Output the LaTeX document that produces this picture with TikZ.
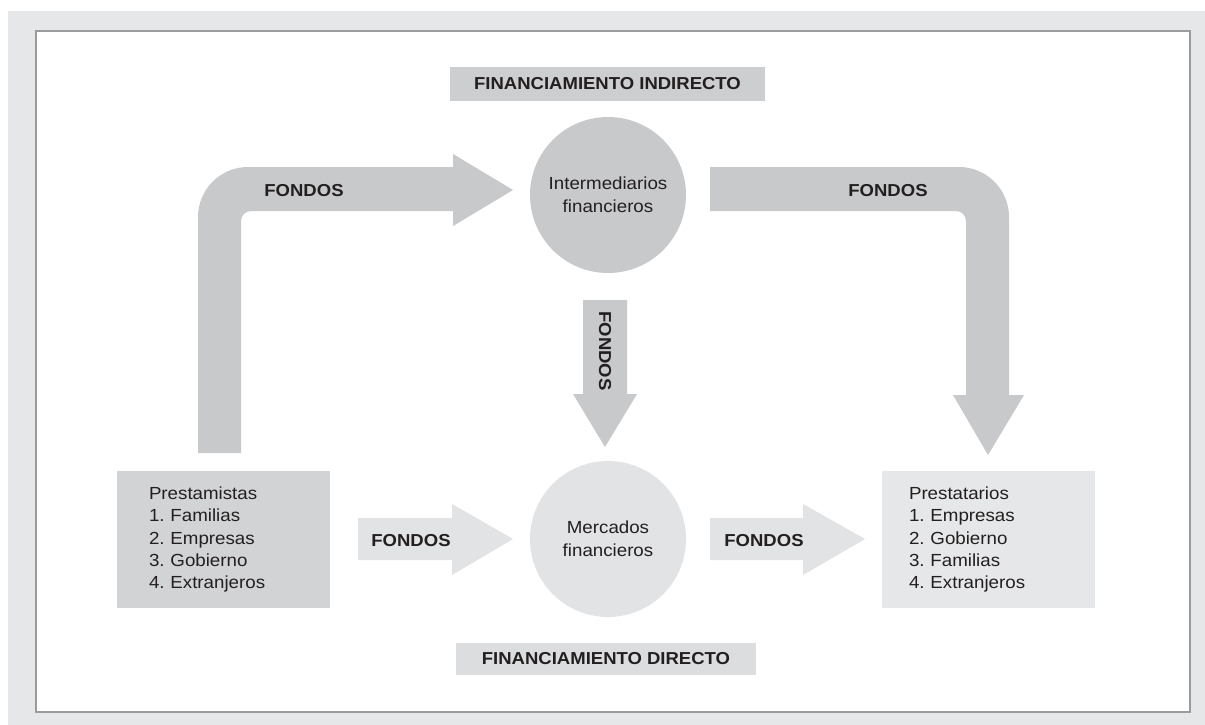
\documentclass[tikz,border=0pt]{standalone}
\usepackage{fontspec}
\setmainfont{Liberation Sans}[FakeStretch=1.07]
\frenchspacing
\definecolor{panelg}{HTML}{E6E7E8}
\definecolor{frameg}{HTML}{9A9B9D}
\definecolor{darkg}{HTML}{C8C9CB}
\definecolor{midg}{HTML}{D1D3D4}
\definecolor{titleg}{HTML}{CDCED0}
\definecolor{lightg}{HTML}{E2E3E4}
\definecolor{paleg}{HTML}{E6E7E8}
\definecolor{dirg}{HTML}{DCDDDF}
\definecolor{txt}{HTML}{231F20}
\tikzset{
  txtfont/.style={font=\fontsize{17.5}{22.4}\selectfont\frenchspacing, text=txt},
  circ/.style={circle, minimum size=156pt, inner sep=0pt, align=center, txtfont,
    font=\fontsize{17.5}{23}\selectfont},
  listbox/.style={rectangle, minimum width=213pt, minimum height=137pt, inner sep=0pt,
    align=left, txtfont},
  titlebox/.style={rectangle, inner sep=0pt, txtfont, font=\fontsize{17.3}{20}\selectfont\bfseries},
  lbl/.style={inner sep=0pt, txtfont, font=\fontsize{17.3}{20}\selectfont\bfseries}
}
\begin{document}
\begin{tikzpicture}[x=1pt,y=-1pt]
\useasboundingbox (0,0) rectangle (1205,725);
% panel and frame
\fill[panelg] (8,11) rectangle (1205,725);
\fill[white] (36,31) rectangle (1190,712);
\draw[frameg, line width=1.6pt] (36,31) rectangle (1190,712);

% titles
\node[titlebox, fill=titleg, minimum width=315pt, minimum height=34pt] (tind) at (607.5,84) {FINANCIAMIENTO INDIRECTO};
\node[titlebox, fill=dirg, minimum width=300pt, minimum height=32pt] (tdir) at (606,659) {FINANCIAMIENTO DIRECTO};

% upper left bent arrow
\fill[darkg] (198,453) -- (198,217) .. controls (198,189.4) and (220.4,167) .. (248,167)
  -- (453,167) -- (453,154) -- (513,190) -- (453,226) -- (453,211) -- (251,211)
  .. controls (245.5,211) and (241,215.5) .. (241,221) -- (241,453) -- cycle;
% upper right bent arrow
\fill[darkg] (710,167) -- (959,167) .. controls (986.6,167) and (1009,189.4) .. (1009,217)
  -- (1009,395) -- (1024,395) -- (988,455) -- (953,395) -- (966,395) -- (966,221)
  .. controls (966,215.5) and (961.5,211) .. (956,211) -- (710,211) -- cycle;
% middle down arrow
\fill[darkg] (583,300) -- (627,300) -- (627,394) -- (637,394) -- (605,447) -- (573,394) -- (583,394) -- cycle;
% lower arrows
\fill[lightg] (358,518) -- (452,518) -- (452,504) -- (513,539) -- (452,575) -- (452,560) -- (358,560) -- cycle;
\fill[lightg] (710,518) -- (803,518) -- (803,504) -- (865,539) -- (803,575) -- (803,560) -- (710,560) -- cycle;

% circles
\node[circ, fill=darkg] (inter) at (608,195) {Intermediarios\\financieros};
\node[circ, fill=lightg] (merc) at (608,539) {Mercados\\financieros};

% boxes
\node[listbox, fill=midg, text width=149pt] (lend) at (223.5,539.5)
  {Prestamistas\\1. Familias\\2. Empresas\\3. Gobierno\\4. Extranjeros};
\node[listbox, fill=paleg, text width=159pt] (borr) at (988.5,539.5)
  {Prestatarios\\1. Empresas\\2. Gobierno\\3. Familias\\4. Extranjeros};

% labels
\node[lbl] (f1) at (304,190.5) {FONDOS};
\node[lbl] (f2) at (888,190.5) {FONDOS};
\node[lbl, rotate=-90] (f3) at (605,351) {FONDOS};
\node[lbl] (f4) at (411,540.5) {FONDOS};
\node[lbl] (f5) at (764,540.5) {FONDOS};
\end{tikzpicture}
\end{document}
